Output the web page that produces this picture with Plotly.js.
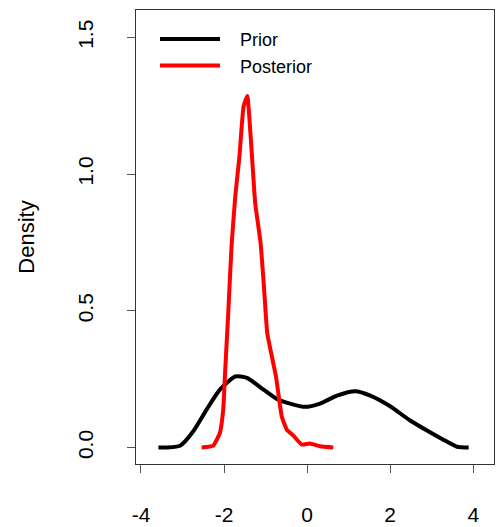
<!DOCTYPE html>
<html>
<head>
<meta charset="utf-8">
<script src="https://cdn.plot.ly/plotly-3.0.1.min.js"></script>
<style>html,body{margin:0;padding:0;background:#fff;}#chart{width:499px;height:527px;}</style>
</head>
<body>
<div id="chart"></div>
<script>
// Prior density (black)
const priorX = [-3.58, -3.06, -2.74, -2.42, -2.10, -1.73, -1.45, -1.05, -0.73, -0.41, -0.05, 0.31, 0.72, 1.16, 1.52, 2.00, 2.48, 2.96, 3.28, 3.61, 3.89];
const priorY = [0.000, 0.007, 0.060, 0.139, 0.212, 0.260, 0.255, 0.212, 0.178, 0.161, 0.149, 0.161, 0.190, 0.206, 0.190, 0.151, 0.099, 0.056, 0.029, 0.003, 0.000];
// Posterior density (red)
const postX = [-2.54, -2.26, -2.10, -2.02, -1.98, -1.90, -1.82, -1.73, -1.63, -1.53, -1.44, -1.37, -1.29, -1.25, -1.12, -1.04, -0.96, -0.85, -0.75, -0.61, -0.49, -0.33, -0.13, 0.07, 0.31, 0.63];
const postY = [0.000, 0.007, 0.054, 0.139, 0.260, 0.490, 0.735, 0.918, 1.064, 1.247, 1.286, 1.162, 0.979, 0.894, 0.748, 0.589, 0.419, 0.334, 0.260, 0.114, 0.066, 0.044, 0.011, 0.015, 0.005, 0.000];
const xTicks = [-4, -2, 0, 2, 4];
const yTicks = [0, 0.5, 1, 1.5];
const yTickText = ["0.0", "0.5", "1.0", "1.5"];
const seriesNames = ["Prior", "Posterior"];

const font = "Liberation Sans, Arial, Helvetica, sans-serif";
const gap = "\u00a0\u00a0\u00a0";
const traces = [
  {x: priorX, y: priorY, mode: "lines", name: gap + seriesNames[0], line: {color: "#000000", width: 4, shape: "spline", smoothing: 0.6}},
  {x: postX, y: postY, mode: "lines", name: gap + seriesNames[1], line: {color: "#ff0000", width: 4, shape: "spline", smoothing: 0.4}}
];
const layout = {
  width: 499, height: 527,
  margin: {l: 136, r: 5, t: 10, b: 63},
  paper_bgcolor: "#fff", plot_bgcolor: "#fff",
  font: {family: font, size: 21, color: "#000"},
  showlegend: true,
  legend: {x: 0.053, y: 0.976, xanchor: "left", yanchor: "top", bgcolor: "rgba(0,0,0,0)",
           font: {family: font, size: 18, color: "#000"}, itemwidth: 60, tracegroupgap: 0},
  xaxis: {range: [-4.12, 4.5], tickvals: xTicks, ticktext: xTicks.map(String), ticks: "outside", ticklen: 8,
          tickcolor: "#555", tickwidth: 1, showgrid: false, zeroline: false, showline: true, mirror: true,
          linecolor: "#333", linewidth: 1, ticklabelstandoff: 24, tickfont: {family: font, size: 21}},
  yaxis: {range: [-0.06, 1.6], tickvals: yTicks, ticktext: yTickText, ticks: "outside", ticklen: 8,
          tickcolor: "#555", tickwidth: 1, showgrid: false, zeroline: false, showline: true, mirror: true,
          linecolor: "#333", linewidth: 1, tickangle: -90, ticklabelstandoff: 26, tickfont: {family: font, size: 21},
          title: {text: "Density", font: {family: font, size: 22}, standoff: 32}}
};
Plotly.newPlot("chart", traces, layout, {displayModeBar: false, staticPlot: true});
</script>
</body>
</html>
